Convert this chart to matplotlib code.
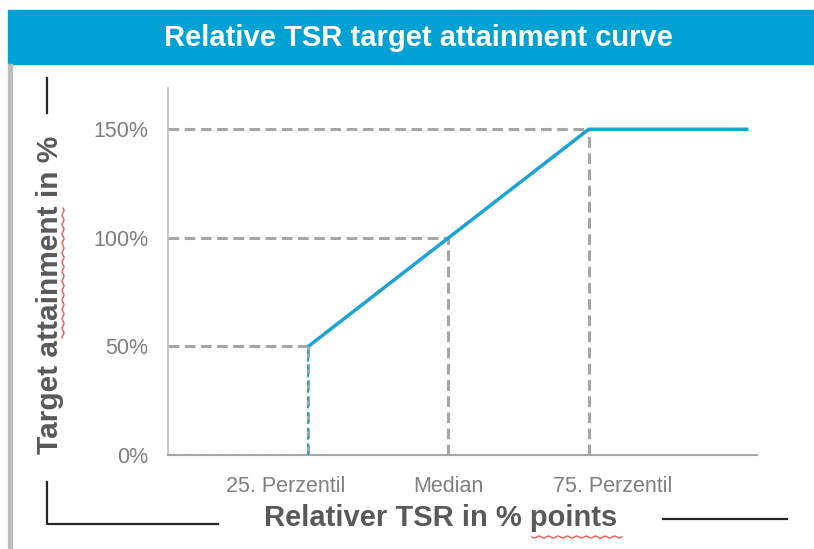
import matplotlib
matplotlib.use("Agg")
import matplotlib.pyplot as plt
from matplotlib.patches import Rectangle
from matplotlib.lines import Line2D
import numpy as np

plt.rcParams['font.family'] = ['Liberation Sans', 'DejaVu Sans']

# Data
categories = ["25. Perzentil", "Median", "75. Perzentil"]
cat_x = [1, 2, 3]
attain = [50, 100, 150]          # target attainment at each category (%)
curve_x = [1, 1, 2, 3, 4.14]
curve_y = [0, 50, 100, 150, 150]
yticks = [0, 50, 100, 150]
ytick_labels = ["0%", "50%", "100%", "150%"]
label_pos = [0.84, 2.0, 3.17]

W, H = 814, 549
fig = plt.figure(figsize=(W / 100, H / 100), dpi=100)

# banner
fig.patches.append(Rectangle((8 / W, 1 - 64 / H), 1 - 8 / W, 54 / H,
                             transform=fig.transFigure, color="#00A1D3", zorder=0))
fig.text(418 / W, 1 - 38 / H, "Relative TSR target attainment curve", color="white",
         fontsize=21, fontweight="bold", ha="center", va="center")
# left gray border
fig.patches.append(Rectangle((8 / W, 0), 4 / W, 1 - 64 / H,
                             transform=fig.transFigure, color="#BDBDBD", zorder=0))

ax = fig.add_axes([168 / W, 1 - 455 / H, (757 - 168) / W, (455 - 88) / H])
ax.set_xlim(0, 4.2)
ax.set_ylim(0, 169)

dash_col = "#A6A6A6"
dash = dict(color=dash_col, lw=2.2, ls=(0, (3.5, 1.8)), zorder=2)
for x, y in zip(cat_x, attain):
    ax.plot([0, x], [y, y], **dash)
    ax.plot([x, x], [0, y], **dash)
ax.plot([0, cat_x[0]], [0, 0], **dash)

ax.plot(curve_x[1:], curve_y[1:], color="#1AA3D6", lw=2.5, zorder=3, solid_capstyle="butt")
ax.plot(curve_x[:2], curve_y[:2], color="#1AA3D6", lw=1.4, ls=(0, (2, 2)), zorder=4)

for s in ["top", "right"]:
    ax.spines[s].set_visible(False)
ax.spines["left"].set_color("#BFBFBF")
ax.spines["bottom"].set_color("#A6A6A6")
ax.spines["left"].set_linewidth(1.2)
ax.spines["bottom"].set_linewidth(1.5)

ax.set_yticks(yticks, ytick_labels)
ax.set_xticks(label_pos, categories)
ax.tick_params(axis="both", length=0, colors="#7F7F7F", labelsize=15.5)
ax.tick_params(axis="y", pad=14)
ax.tick_params(axis="x", pad=15)

fig.text(441 / W, 1 - 518 / H, "Relativer TSR in % points", color="#595959",
         fontsize=21, fontweight="bold", ha="center", va="center")
fig.text(50 / W, 1 - 295 / H, "Target attainment in %", color="#595959",
         fontsize=21.5, fontweight="bold", ha="center", va="center", rotation=90)

# spell-check squiggles
t = np.linspace(0, 1, 400)
yy = 208 + t * (338 - 208)
xx = 63 + 1.0 * np.sin((yy - 208) / 1.5)
fig.lines.append(Line2D(xx / W, 1 - yy / H, color="#F04848", lw=0.9, transform=fig.transFigure))
xx2 = 532 + t * (622 - 532)
yy2 = 537 + 1.0 * np.sin((xx2 - 532) / 1.5)
fig.lines.append(Line2D(xx2 / W, 1 - yy2 / H, color="#F04848", lw=0.9, transform=fig.transFigure))

# black bracket lines
blk = dict(color="#262626", lw=1.6, transform=fig.transFigure)
fig.lines.append(Line2D([47 / W, 47 / W], [1 - 78 / H, 1 - 113 / H], **blk))
fig.lines.append(Line2D([47 / W, 47 / W, 218 / W], [1 - 482 / H, 1 - 524 / H, 1 - 524 / H], **blk))
fig.lines.append(Line2D([663 / W, 787 / W], [1 - 519 / H, 1 - 519 / H], **blk))

fig.savefig("out.png", dpi=100)
